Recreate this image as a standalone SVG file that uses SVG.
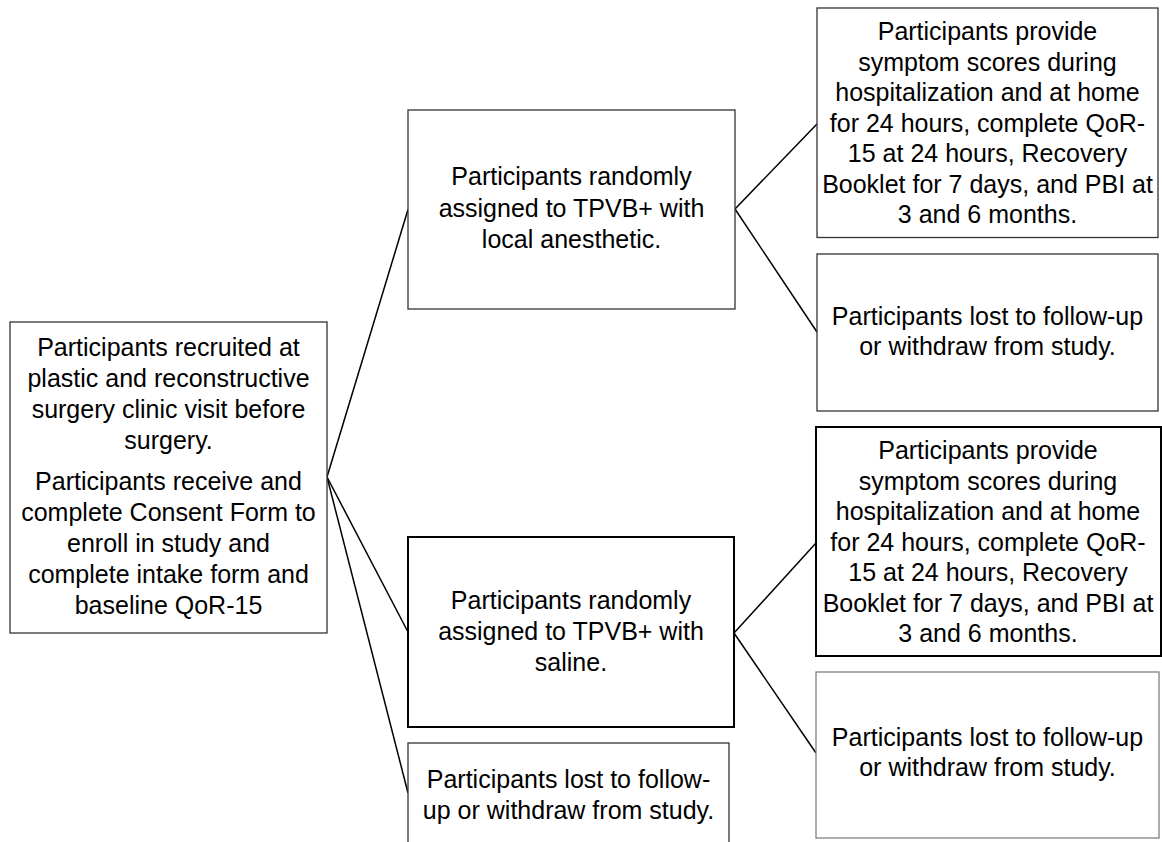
<svg xmlns="http://www.w3.org/2000/svg" width="1162" height="842" viewBox="0 0 1162 842">
<style>
.box{fill:#fff;stroke:#333;stroke-width:1.3}
.dark{stroke:#000;stroke-width:2}
.grey{stroke:#808080;stroke-width:1.3}
text{font-family:"Liberation Sans",Arial,sans-serif;font-size:25px;fill:#000;text-anchor:middle}
.conn line{stroke:#000;stroke-width:1.5}
</style>
<rect width="1162" height="842" fill="#fff"/>
<g class="conn" id="connectors">
<line x1="327" y1="477" x2="408" y2="209.5"/>
<line x1="327" y1="477" x2="408" y2="632"/>
<line x1="327" y1="477" x2="408" y2="793"/>
<line x1="735" y1="209" x2="817" y2="124"/>
<line x1="735" y1="209" x2="817" y2="332"/>
<line x1="734" y1="633" x2="816" y2="543"/>
<line x1="734" y1="633" x2="816" y2="753"/>
</g>
<g id="recruit">
<rect class="box" x="10" y="322" width="317" height="311"/>
<text x="168.5" y="356">Participants recruited at</text>
<text x="168.5" y="387">plastic and reconstructive</text>
<text x="168.5" y="418">surgery clinic visit before</text>
<text x="168.5" y="449">surgery.</text>
<text x="168.5" y="490">Participants receive and</text>
<text x="168.5" y="521">complete Consent Form to</text>
<text x="168.5" y="552">enroll in study and</text>
<text x="168.5" y="583">complete intake form and</text>
<text x="168.5" y="614">baseline QoR-15</text>
</g>
<g id="arm-local">
<rect class="box" x="408" y="110" width="327" height="199"/>
<text x="571.5" y="185">Participants randomly</text>
<text x="571.5" y="216.5">assigned to TPVB+ with</text>
<text x="571.5" y="248">local anesthetic.</text>
</g>
<g id="arm-saline">
<rect class="box dark" x="408" y="537" width="326" height="190"/>
<text x="571" y="609">Participants randomly</text>
<text x="571" y="640">assigned to TPVB+ with</text>
<text x="571" y="671">saline.</text>
</g>
<g id="lost-early">
<rect class="box" x="408" y="743" width="321" height="130"/>
<text x="568.5" y="788">Participants lost to follow-</text>
<text x="568.5" y="819">up or withdraw from study.</text>
</g>
<g id="local-complete">
<rect class="box" x="817" y="8" width="341" height="229.5"/>
<text x="987.5" y="40">Participants provide</text>
<text x="987.5" y="70.5">symptom scores during</text>
<text x="987.5" y="101">hospitalization and at home</text>
<text x="987.5" y="131.5">for 24 hours, complete QoR-</text>
<text x="987.5" y="162">15 at 24 hours, Recovery</text>
<text x="987.5" y="192.5">Booklet for 7 days, and PBI at</text>
<text x="987.5" y="223">3 and 6 months.</text>
</g>
<g id="local-lost">
<rect class="box" x="817" y="254" width="341" height="157"/>
<text x="987.5" y="325">Participants lost to follow-up</text>
<text x="987.5" y="355">or withdraw from study.</text>
</g>
<g id="saline-complete">
<rect class="box dark" x="816" y="427" width="345" height="229"/>
<text x="988" y="459">Participants provide</text>
<text x="988" y="489.5">symptom scores during</text>
<text x="988" y="520">hospitalization and at home</text>
<text x="988" y="550.5">for 24 hours, complete QoR-</text>
<text x="988" y="581">15 at 24 hours, Recovery</text>
<text x="988" y="611.5">Booklet for 7 days, and PBI at</text>
<text x="988" y="642">3 and 6 months.</text>
</g>
<g id="saline-lost">
<rect class="box grey" x="816" y="672" width="343" height="166"/>
<text x="987.5" y="746">Participants lost to follow-up</text>
<text x="987.5" y="776">or withdraw from study.</text>
</g>
</svg>
